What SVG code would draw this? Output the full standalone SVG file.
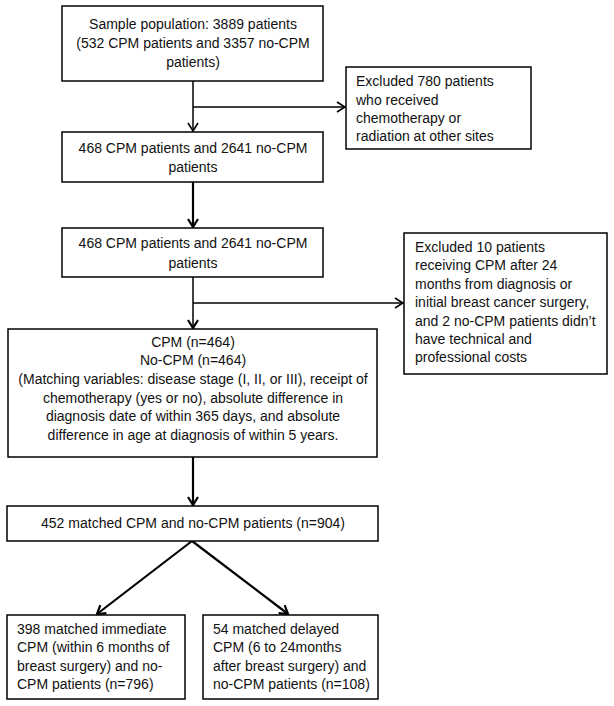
<svg xmlns="http://www.w3.org/2000/svg" width="614" height="706" viewBox="0 0 614 706">
<style>
.box{fill:#fff;stroke:#000;stroke-width:1.5}
text{font-family:"Liberation Sans",Arial,sans-serif;font-size:14px;fill:#111}
.c{text-anchor:middle}
.ln{stroke:#000;stroke-width:1.5;fill:none}
.thk{stroke:#000;stroke-width:2.2;fill:none}
</style>
<defs>
<marker id="ah" markerUnits="userSpaceOnUse" viewBox="0 0 10 12" refX="9" refY="6" markerWidth="10" markerHeight="12" orient="auto">
<path d="M1,1 L9,6 L1,11" fill="none" stroke="#000" stroke-width="1.6"/>
</marker>
<marker id="ah2" markerUnits="userSpaceOnUse" viewBox="0 0 10 12" refX="9" refY="6" markerWidth="10" markerHeight="12" orient="auto">
<path d="M1,1 L9,6 L1,11" fill="none" stroke="#000" stroke-width="2.2"/>
</marker>
</defs>
<rect width="614" height="706" fill="#fff"/>
<g id="connectors">
<line class="ln" x1="193" y1="81" x2="193" y2="131" marker-end="url(#ah)"/>
<line class="ln" x1="193" y1="107" x2="345" y2="107" marker-end="url(#ah)"/>
<line class="thk" x1="193" y1="182" x2="193" y2="227" marker-end="url(#ah2)"/>
<line class="ln" x1="193" y1="277" x2="193" y2="328" marker-end="url(#ah2)"/>
<line class="ln" x1="193" y1="303" x2="403" y2="303" marker-end="url(#ah)"/>
<line class="thk" x1="193" y1="457" x2="193" y2="505" marker-end="url(#ah2)"/>
<line class="thk" x1="192" y1="541" x2="97" y2="614" marker-end="url(#ah2)"/>
<line class="thk" x1="192" y1="541" x2="288" y2="614" marker-end="url(#ah2)"/>
</g>
<g id="n1">
<rect class="box" x="62" y="6" width="261" height="75"/>
<text class="c" x="193" y="29">Sample population: 3889 patients</text>
<text class="c" x="193" y="48">(532 CPM patients and 3357 no-CPM</text>
<text class="c" x="193" y="67">patients)</text>
</g>
<g id="ex1">
<rect class="box" x="346" y="67" width="185" height="82"/>
<text x="356" y="86">Excluded 780 patients</text>
<text x="356" y="105">who received</text>
<text x="356" y="123">chemotherapy or</text>
<text x="356" y="141">radiation at other sites</text>
</g>
<g id="n2">
<rect class="box" x="62" y="132" width="261" height="50"/>
<text class="c" x="193" y="153">468 CPM patients and 2641 no-CPM</text>
<text class="c" x="193" y="172">patients</text>
</g>
<g id="n3">
<rect class="box" x="62" y="228" width="261" height="49"/>
<text class="c" x="193" y="248">468 CPM patients and 2641 no-CPM</text>
<text class="c" x="193" y="268">patients</text>
</g>
<g id="ex2">
<rect class="box" x="404" y="233" width="203" height="141"/>
<text x="415" y="252">Excluded 10 patients</text>
<text x="415" y="270">receiving CPM after 24</text>
<text x="415" y="289">months from diagnosis or</text>
<text x="415" y="307">initial breast cancer surgery,</text>
<text x="415" y="326">and 2 no-CPM patients didn’t</text>
<text x="415" y="344">have technical and</text>
<text x="415" y="362">professional costs</text>
</g>
<g id="n4">
<rect class="box" x="8" y="329" width="369" height="128"/>
<text class="c" x="193" y="347">CPM (n=464)</text>
<text class="c" x="193" y="365">No-CPM (n=464)</text>
<text class="c" x="193" y="384">(Matching variables: disease stage (I, II, or III), receipt of</text>
<text class="c" x="193" y="403">chemotherapy (yes or no), absolute difference in</text>
<text class="c" x="193" y="421">diagnosis date of within 365 days, and absolute</text>
<text class="c" x="193" y="440">difference in age at diagnosis of within 5 years.</text>
</g>
<g id="n5">
<rect class="box" x="7" y="506" width="371" height="35"/>
<text class="c" x="193" y="528">452 matched CPM and no-CPM patients (n=904)</text>
</g>
<g id="n6">
<rect class="box" x="7" y="615" width="178" height="84"/>
<text x="17" y="634">398 matched immediate</text>
<text x="17" y="652">CPM (within 6 months of</text>
<text x="17" y="671">breast surgery) and no-</text>
<text x="17" y="689">CPM patients (n=796)</text>
</g>
<g id="n7">
<rect class="box" x="203" y="615" width="175" height="84"/>
<text x="213" y="634">54 matched delayed</text>
<text x="213" y="652">CPM (6 to 24months</text>
<text x="213" y="671">after breast surgery) and</text>
<text x="213" y="689">no-CPM patients (n=108)</text>
</g>
</svg>
